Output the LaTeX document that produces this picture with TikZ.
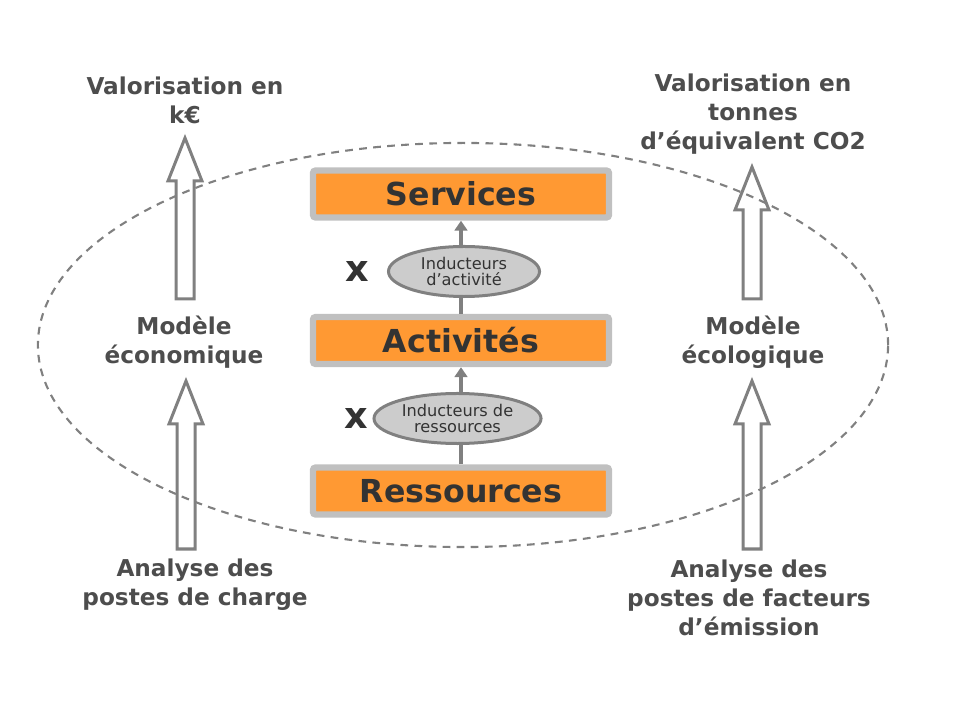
\documentclass[tikz,border=0pt]{standalone}
\usepackage{fontspec}
\setmainfont{DejaVu Sans}
\usepackage{tikz}
\usetikzlibrary{shapes, arrows.meta, positioning, calc}

\definecolor{boxorange}{HTML}{FF9933}
\definecolor{boxgray}{HTML}{C0C0C0}
\definecolor{linegray}{HTML}{808080}
\definecolor{ellgray}{HTML}{CCCCCC}
\definecolor{txtgray}{HTML}{4D4D4D}
\definecolor{txtdark}{HTML}{333333}

% hollow block arrow from #1 (bottom) up to #2 (tip)
\newcommand{\fatarrow}[2]{%
  \draw[hollow] ($(#1)+(-9,0)$) -- ($(#2)+(-9,43)$) -- ($(#2)+(-17,43)$) -- (#2)
    -- ($(#2)+(17,43)$) -- ($(#2)+(9,43)$) -- ($(#1)+(9,0)$) -- cycle;}

\begin{document}
\begin{tikzpicture}[x=0.025cm, y=-0.025cm,
        layerbox/.style={rectangle, draw=boxgray, fill=boxorange, line width=0.16cm, rounded corners=2pt, minimum width=7.4cm, minimum height=1.175cm, inner sep=0pt, font=\fontsize{22.5}{27}\selectfont\bfseries, text=txtdark},
        inductor/.style={ellipse, draw=linegray, fill=ellgray, line width=0.075cm, inner sep=0pt, align=center, font=\fontsize{11.5}{11.8}\selectfont, text=txtdark},
        sidetext/.style={align=center, font=\fontsize{16.5}{20.6}\selectfont\bfseries, text=txtgray, inner sep=0pt},
        factor/.style={font=\fontsize{26}{26}\selectfont\bfseries, text=txtdark, inner sep=0pt},
        arrow/.style={-{Triangle[width=9pt,length=7pt]}, line width=2.8pt, linegray},
        hollow/.style={draw=linegray, fill=white, line width=0.075cm, line join=miter}
    ]
        \useasboundingbox (0,0) rectangle (960,720);

        % central stack
        \node[layerbox] (serv) at (461,194) {Services};
        \node[layerbox] (act) at (461,340.5) {Activités};
        \node[layerbox] (ress) at (461,491) {Ressources};

        \draw[arrow] (ress) -- (act);
        \draw[arrow] (act) -- (serv);

        \node[inductor, minimum width=3.775cm, minimum height=1.25cm] (indact) at (464,271.5) {Inducteurs\\d’activité};
        \node[inductor, minimum width=4.175cm, minimum height=1.25cm] (indres) at (457.5,418.5) {Inducteurs de\\ressources};

        \node[factor, left=0.45cm of indact] (xact) {x};
        \node[factor, left=0.1cm of indres] (xres) {x};

        % economic side
        \node[sidetext] (valeco) at (185,100) {Valorisation en\\k€};
        \node[sidetext] (modeco) at (184,342) {Modèle\\économique};
        \node[sidetext] (anaeco) at (195,585) {Analyse des\\postes de charge};

        % ecological side
        \node[sidetext] (valeco2) at (753,114) {Valorisation en\\tonnes\\d’équivalent CO2};
        \node[sidetext] (modeco2) at (753,342) {Modèle\\écologique};
        \node[sidetext] (anaeco2) at (749,598) {Analyse des\\postes de facteurs\\d’émission};

        \coordinate (ecolow) at (186,549);
        \coordinate (ecolowtip) at (186,381);
        \coordinate (ecoup) at (185,299);
        \coordinate (ecouptip) at (185,138);
        \coordinate (ecglow) at (752,549);
        \coordinate (ecglowtip) at (752,381);
        \coordinate (ecgup) at (752,299);
        \coordinate (ecguptip) at (752,167);

        \fatarrow{ecolow}{ecolowtip}
        \fatarrow{ecoup}{ecouptip}
        \fatarrow{ecglow}{ecglowtip}
        \fatarrow{ecgup}{ecguptip}

        \draw[linegray, line width=1.5pt, dash pattern=on 5.5pt off 4.5pt] (463,345) ellipse [x radius=10.625cm, y radius=5.05cm];
    \end{tikzpicture}
\end{document}
